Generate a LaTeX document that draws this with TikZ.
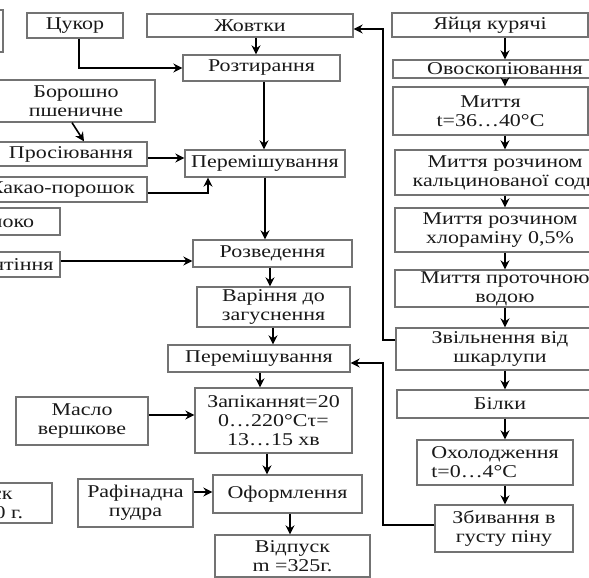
\documentclass[tikz,border=0pt]{standalone}
\usepackage{fontspec}
\setmainfont{Liberation Serif}[FakeStretch=1.22]
\usetikzlibrary{arrows.meta}

\begin{document}
\begin{tikzpicture}[x=1pt, y=-1pt,
    box/.style={draw=black!55, line width=1.3pt, text=black!90, align=center,
        inner xsep=2pt, inner ysep=1pt, font=\fontsize{18}{19}\selectfont},
    arr/.style={-{Stealth[length=9pt,width=9pt]}, line width=1.6pt, black}]
    \useasboundingbox (0,0) rectangle (589,578);
    % left column
    \node[box, minimum width=63, minimum height=42] (lefttop) at (-28.5,31) {};
    \node[box, minimum width=96, minimum height=25] (sugar) at (75,25.5) {Цукор};
    \node[box, minimum width=158, minimum height=42] (flour) at (76,101) {Борошно\\пшеничне};
    \node[box, minimum width=152, minimum height=24] (sift) at (71,154) {Просіювання};
    \node[box, minimum width=170, minimum height=25] (cocoa) at (62,189.5) {Какао-порошок};
    \node[box, minimum width=124, minimum height=27] (milk) at (-2,221.5) {Молоко};
    \node[box, minimum width=118, minimum height=25] (boilmilk) at (1,264.5) {Кип'ятіння};
    \node[box, minimum width=132, minimum height=48] (butter) at (82,421) {Масло\\вершкове};
    \node[box, minimum width=115, minimum height=48] (powder) at (135.5,503) {Рафінадна\\пудра};
    \node[box, minimum width=154, minimum height=40] (releaseold) at (-25,503) {Відпуск\\m =1000 г.};
    % middle column
    \node[box, minimum width=206, minimum height=23] (yolks) at (250,25.5) {Жовтки};
    \node[box, minimum width=157, minimum height=26] (rub) at (261.5,68) {Розтирання};
    \node[box, minimum width=160, minimum height=27] (mix1) at (265,163.5) {Перемішування};
    \node[box, minimum width=159, minimum height=27] (dilute) at (272.5,253.5) {Розведення};
    \node[box, minimum width=153, minimum height=40] (thicken) at (273.5,307) {Варіння до\\загуснення};
    \node[box, minimum width=182, minimum height=27] (mix2) at (259,358.5) {Перемішування};
    \node[box, minimum width=157, minimum height=65] (bake) at (273.5,420.5) {Запіканняt=20\\0…220°Cτ=\\13…15 хв};
    \node[box, minimum width=149, minimum height=38] (decor) at (287.5,494) {Оформлення};
    \node[box, minimum width=155, minimum height=42] (release) at (292.5,556) {Відпуск\\m =325г.};
    % right column
    \node[box, minimum width=196, minimum height=24] (eggs) at (490,25) {Яйця курячі};
    \node[box, minimum width=224, minimum height=18] (candle) at (505,69) {Овоскопіювання};
    \node[box, minimum width=195, minimum height=48] (wash) at (490.5,111) {Миття\\t=36…40°C};
    \node[box, minimum width=220, minimum height=45] (soda) at (505,172.5) {Миття розчином\\кальцинованої соди};
    \node[box, minimum width=210, minimum height=44] (chlor) at (500,230) {Миття розчином\\хлораміну 0,5\%};
    \node[box, minimum width=220, minimum height=37] (rinse) at (505,288.5) {Миття проточною\\водою};
    \node[box, minimum width=208, minimum height=42] (shell) at (500,349) {Звільнення від\\шкарлупи};
    \node[box, minimum width=206, minimum height=28] (whites) at (500,404) {Білки};
    \node[box, minimum width=156, minimum height=45, align=left] (cool) at (495,462.5) {Охолодження\\t=0…4°C};
    \node[box, minimum width=138, minimum height=47] (whip) at (504,528.5) {Збивання в\\густу піну};

    \draw[arr] (sugar.south -| 79,0) |- (rub.west);
    \draw[arr] (yolks.south -| 256,0) -- (rub.north -| 256,0);
    \draw[arr] (rub.south -| 264,0) -- (mix1.north -| 264,0);
    \draw[arr] ([xshift=-4pt]flour.south) -- ([xshift=13pt]sift.north);
    \draw[arr] (sift.east |- 0,158) -- (mix1.west |- 0,158);
    \draw[arr] (cocoa.east |- 0,193) -| (mix1.south -| 208,0);
    \draw[arr] (mix1.south) -- (dilute.north -| mix1.south);
    \draw[arr] (boilmilk.east |- 0,261) -- (dilute.west |- 0,261);
    \draw[arr] (dilute.south -| 270,0) -- (thicken.north -| 270,0);
    \draw[arr] (thicken.south -| 273,0) -- (mix2.north -| 273,0);
    \draw[arr] (mix2.south -| 260,0) -- (bake.north -| 260,0);
    \draw[arr] (butter.east |- 0,415) -- (bake.west |- 0,415);
    \draw[arr] (bake.south -| 267,0) -- (decor.north -| 267,0);
    \draw[arr] (powder.east |- 0,492) -- (decor.west |- 0,492);
    \draw[arr] (decor.south -| 290,0) -- (release.north -| 290,0);
    \foreach \a/\b in {eggs/candle, candle/wash, wash/soda, soda/chlor, chlor/rinse,
        rinse/shell, shell/whites, whites/cool, cool/whip}
        \draw[arr] (\a.south -| 505,0) -- (\b.north -| 505,0);
    \draw[arr] (shell.west |- 0,340) -| (383,29) -- (yolks.east |- 0,29);
    \draw[arr] (whip.west |- 0,525) -| (383,363) -- (mix2.east |- 0,363);
\end{tikzpicture}
\end{document}
